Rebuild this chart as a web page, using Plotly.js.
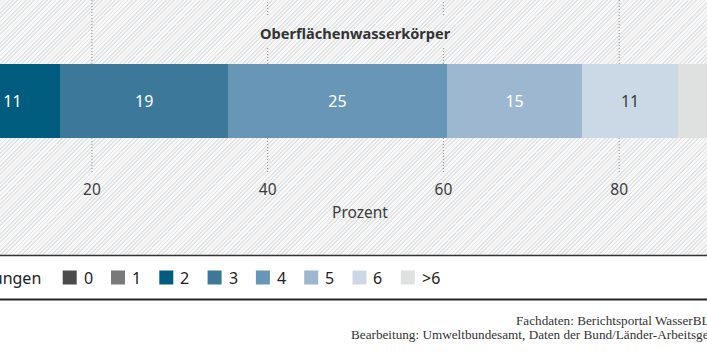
<!DOCTYPE html>
<html><head><meta charset="utf-8">
<script src="https://cdn.plot.ly/plotly-3.0.1.min.js"></script>
<style>
html,body{margin:0;padding:0;background:#fff;}
#wrap{position:relative;width:707px;height:354px;overflow:hidden;background:#fff;}
#hatch{position:absolute;left:0;top:0;width:707px;height:255px;
 background:repeating-linear-gradient(135deg,#e1e3e5 0px,#e1e3e5 1.2px,#f8f8f8 1.2px,#f8f8f8 3px);}
#chart{position:absolute;left:0;top:0;width:707px;height:354px;}
</style></head>
<body>
<div id="wrap"><div id="hatch"></div><div id="chart"></div></div>
<script>
// ---- data ----
const categories = ['0', '1', '2', '3', '4', '5', '6', '>6'];
const shares = [1.5, 4.0, 10.9, 19.1, 24.9, 15.4, 10.9, 13.3];
const rowLabel = 'Oberflächenwasserkörper';
const tickValues = [0, 20, 40, 60, 80, 100];
const axisTitle = 'Prozent';
const legendTitle = 'Anzahl Belastungen';
const sourceLines = ['Fachdaten: Berichtsportal WasserBLIcK/BfG',
  'Bearbeitung: Umweltbundesamt, Daten der Bund/Länder-Arbeitsgemeinschaft Wasser'];

// ---- styles ----
const colors = ['#4b4b4b', '#7a7a7a', '#005d80', '#3b7899', '#6896b6', '#9cb7cf', '#cbd9e6', '#dfe0e0'];
const textColors = ['#fff', '#fff', '#fff', '#fff', '#fff', '#fff', '#3c3c3c', '#3c3c3c'];
const FONT = 'Noto Sans, Open Sans, sans-serif';
const TXT = '#3c3c3c';
const W = 707;

const plotH = 172;                 // plot area height in px
const py = px => (plotH - px) / plotH; // px from top -> paper y
const pxx = px => px / W;              // px from left -> paper x

const traces = categories.map((c, i) => ({
  type: 'bar', orientation: 'h', name: c,
  x: [shares[i]], y: [0], width: 1,
  marker: {color: colors[i], line: {width: 0}},
  texttemplate: '%{x:.0f}', textposition: 'inside', constraintext: 'none',
  insidetextanchor: 'middle', textangle: 0,
  insidetextfont: {family: FONT, size: 16, color: textColors[i]},
  hoverinfo: 'x+name', showlegend: false
}));

const titleHalfWidth = 11.5;
const shapes = [];
tickValues.forEach(t => {
  const base = {type: 'line', xref: 'x', yref: 'paper', x0: t, x1: t, layer: 'below',
    line: {color: '#8c8c8c', width: 1, dash: '1px,2px'}};
  if (Math.abs(t - 50) < titleHalfWidth) {
    shapes.push(Object.assign({}, base, {y0: 0, y1: py(48)}));
    shapes.push(Object.assign({}, base, {y0: py(15), y1: 1}));
  } else {
    shapes.push(Object.assign({}, base, {y0: 0, y1: 1}));
  }
});
shapes.push({type: 'line', xref: 'paper', yref: 'paper', x0: 0, x1: 1, y0: py(255.5), y1: py(255.5),
  line: {color: '#333', width: 1.5}});
shapes.push({type: 'line', xref: 'paper', yref: 'paper', x0: 0, x1: 1, y0: py(299.5), y1: py(299.5),
  line: {color: '#222', width: 2.2}});

const annotations = [
  {text: '<b>' + rowLabel + '</b>', xref: 'x', x: 50, yref: 'paper', y: py(33), yanchor: 'middle',
   showarrow: false, font: {family: FONT, size: 14.6, color: '#333'}},
  {text: axisTitle, xref: 'paper', x: pxx(360), yref: 'paper', y: py(211.5), yanchor: 'middle',
   showarrow: false, font: {family: FONT, size: 15.5, color: TXT}},
  {text: legendTitle, xref: 'paper', x: pxx(43), xanchor: 'right', yref: 'paper', y: py(277.5), yanchor: 'middle',
   showarrow: false, font: {family: FONT, size: 16, color: '#222'}},
  {text: sourceLines[0], xref: 'paper', x: pxx(514), xanchor: 'left', yref: 'paper', y: py(320), yanchor: 'middle',
   showarrow: false, font: {family: 'Liberation Serif, serif', size: 13.2, color: '#333'}},
  {text: sourceLines[1], xref: 'paper', x: pxx(349), xanchor: 'left', yref: 'paper', y: py(334), yanchor: 'middle',
   showarrow: false, font: {family: 'Liberation Serif, serif', size: 13.2, color: '#333'}}
];

// legend (squares + labels) built from categories/colors
const legX0 = 62.7, legPitch = 48.3, sq = 14, legY = 277.5;
categories.forEach((c, i) => {
  const x0 = legX0 + i * legPitch;
  shapes.push({type: 'rect', xref: 'paper', yref: 'paper', x0: pxx(x0), x1: pxx(x0 + sq),
    y0: py(legY + sq / 2), y1: py(legY - sq / 2), fillcolor: colors[i], line: {width: 0}});
  annotations.push({text: c, xref: 'paper', x: pxx(x0 + sq + 5), xanchor: 'left', yref: 'paper',
    y: py(legY), yanchor: 'middle', showarrow: false, font: {family: FONT, size: 16, color: '#222'}});
});

const layout = {
  width: 707, height: 354,
  margin: {l: 0, r: 0, t: 0, b: 354 - plotH, pad: 0},
  paper_bgcolor: 'rgba(0,0,0,0)', plot_bgcolor: 'rgba(0,0,0,0)',
  barmode: 'stack', bargap: 0, uniformtext: {mode: false},
  font: {family: FONT, color: TXT},
  xaxis: {range: [9.54, 90.0], tickvals: tickValues, showgrid: false, zeroline: false, showline: false,
    ticks: '', ticklabelstandoff: 6, tickfont: {family: FONT, size: 15.5, color: TXT}, fixedrange: true},
  yaxis: {range: [-0.959, 1.365], visible: false, fixedrange: true},
  showlegend: false,
  shapes: shapes, annotations: annotations
};

Plotly.newPlot('chart', traces, layout, {displayModeBar: false, staticPlot: true});
</script>
</body></html>
